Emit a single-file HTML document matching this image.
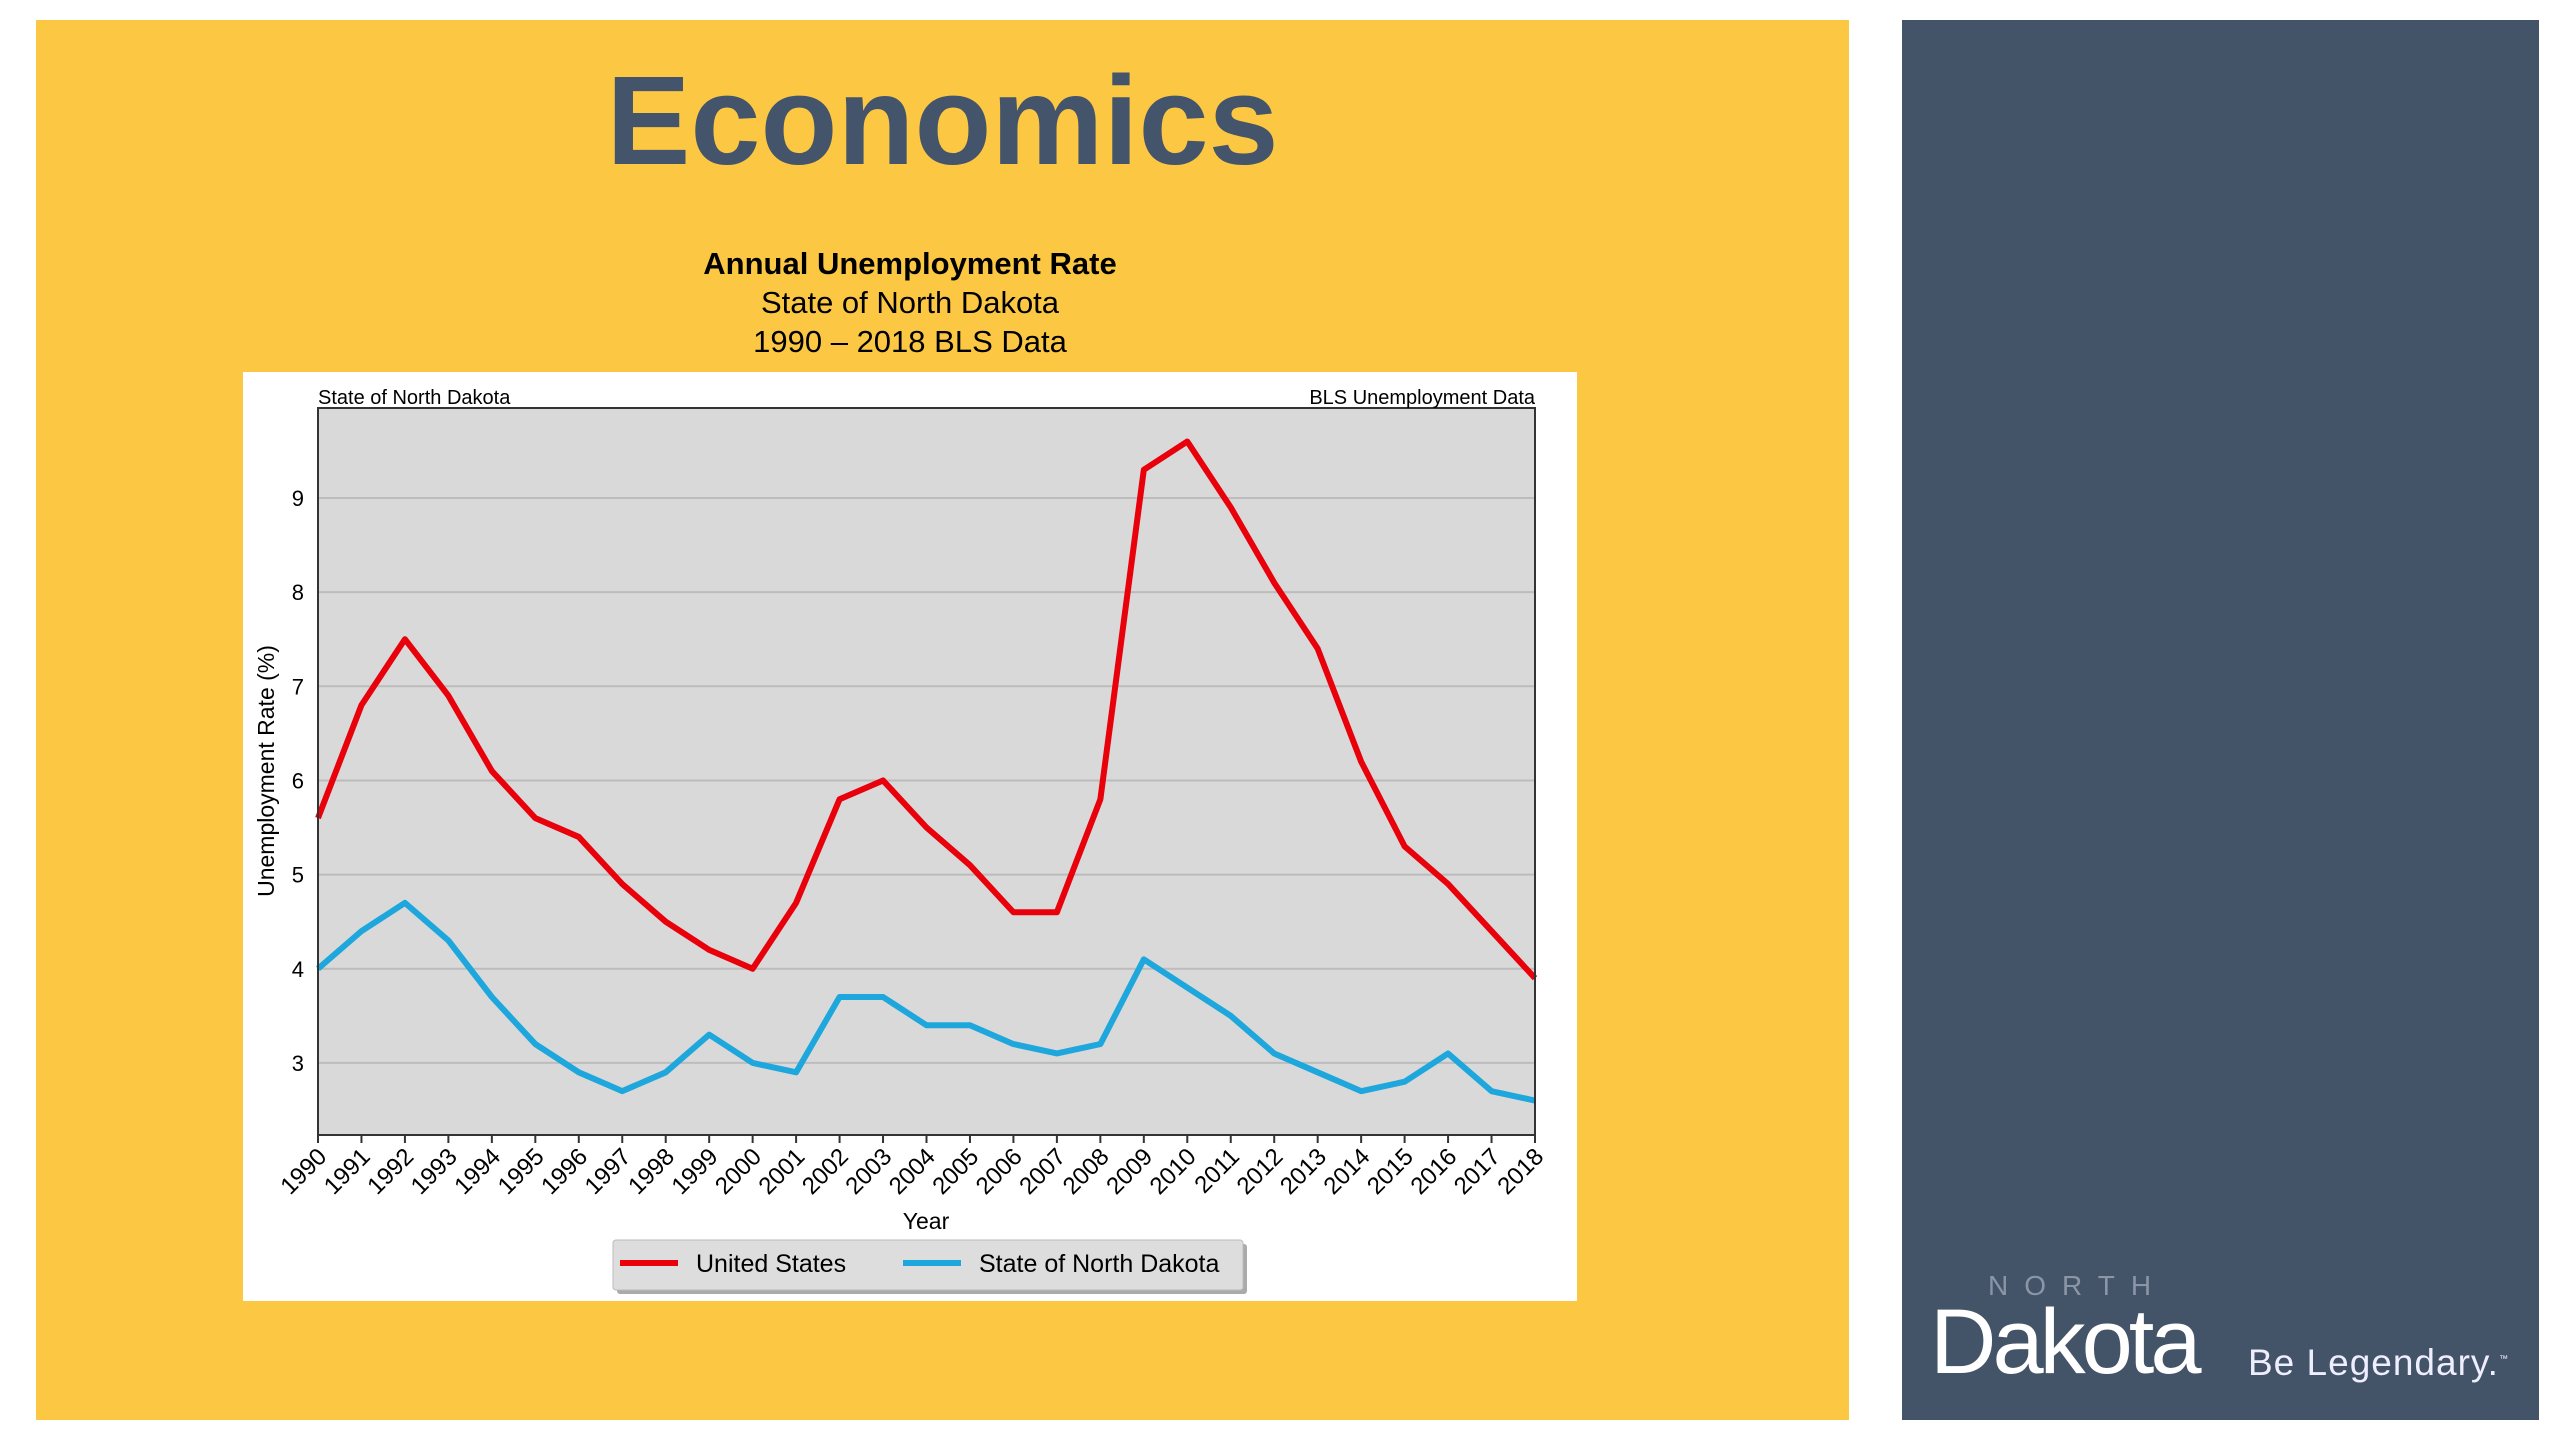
<!DOCTYPE html>
<html><head><meta charset="utf-8"><style>
html,body{margin:0;padding:0;width:2560px;height:1440px;background:#fff;overflow:hidden;font-family:"Liberation Sans",sans-serif}
.abs{position:absolute}
</style></head><body>
<div class="abs" style="left:36px;top:20px;width:1813px;height:1400px;background:#fcc843"></div>
<div class="abs" style="left:1902px;top:20px;width:637px;height:1400px;background:#435368"></div>
<div class="abs" style="left:36px;width:1813px;top:48px;text-align:center;font-size:126px;font-weight:bold;color:#44546a">Economics</div>
<div class="abs" style="left:510px;width:800px;top:244px;text-align:center;font-size:31px;line-height:39px;color:#000"><b>Annual Unemployment Rate</b><br>State of North Dakota<br>1990 – 2018 BLS Data</div>
<div class="abs" style="left:1988px;top:1270px;font-size:28px;letter-spacing:16px;color:#8a96a6">NORTH</div>
<div class="abs" style="left:1930px;top:1290px;font-size:92px;color:#fff;letter-spacing:-4px">Dakota</div>
<div class="abs" style="left:2248px;top:1342px;font-size:37px;color:#eef;letter-spacing:1px">Be Legendary.<sup style="font-size:9px">™</sup></div>
<svg class="abs" style="left:0;top:0" width="2560" height="1440">
<rect x="243" y="372" width="1334" height="929" fill="#fff"/>
<rect x="318" y="408" width="1217" height="727" fill="#d9d9d9"/>
<g id="grid"></g><g id="lines"></g>
<rect x="318" y="408" width="1217" height="727" fill="none" stroke="#333" stroke-width="2"/>
<text x="318" y="404" font-size="20">State of North Dakota</text>
<text x="1535" y="404" font-size="20" text-anchor="end">BLS Unemployment Data</text>
<text transform="translate(274,771) rotate(-90)" font-size="23" text-anchor="middle">Unemployment Rate (%)</text>
<text x="926" y="1229" font-size="23" text-anchor="middle">Year</text>
<g id="ticks"></g>
<g>
<rect x="617" y="1244" width="630" height="50" fill="#aaa" rx="3"/>
<rect x="613" y="1240" width="630" height="50" fill="#ddd" stroke="#bbb" rx="3"/>
<line x1="620" y1="1263" x2="678" y2="1263" stroke="#e8000b" stroke-width="6"/>
<text x="696" y="1272" font-size="25">United States</text>
<line x1="903" y1="1263" x2="961" y2="1263" stroke="#1ea7dc" stroke-width="6"/>
<text x="979" y="1272" font-size="25">State of North Dakota</text>
</g>
</svg>
<script>
const years=[1990,1991,1992,1993,1994,1995,1996,1997,1998,1999,2000,2001,2002,2003,2004,2005,2006,2007,2008,2009,2010,2011,2012,2013,2014,2015,2016,2017,2018];
const usValues=[5.6,6.8,7.5,6.9,6.1,5.6,5.4,4.9,4.5,4.2,4.0,4.7,5.8,6.0,5.5,5.1,4.6,4.6,5.8,9.3,9.6,8.9,8.1,7.4,6.2,5.3,4.9,4.4,3.9];
const ndValues=[4.0,4.4,4.7,4.3,3.7,3.2,2.9,2.7,2.9,3.3,3.0,2.9,3.7,3.7,3.4,3.4,3.2,3.1,3.2,4.1,3.8,3.5,3.1,2.9,2.7,2.8,3.1,2.7,2.6];
const yTicks=[3,4,5,6,7,8,9];
const NS='http://www.w3.org/2000/svg';
const xS=i=>318+i*(1535-318)/(years.length-1);
const yS=v=>498+(9-v)*94.15;
const grid=document.getElementById('grid'),ticks=document.getElementById('ticks'),lines=document.getElementById('lines');
function mk(tag,at){const e=document.createElementNS(NS,tag);for(const k in at)e.setAttribute(k,at[k]);return e;}
yTicks.forEach(v=>{
 const l=mk('line',{x1:318,x2:1535,y1:yS(v),y2:yS(v),stroke:'#bcbcbc','stroke-width':2});
 
 
 grid.appendChild(l);
 const t=mk('text',{x:304,y:yS(v)+8,'font-size':22,'text-anchor':'end'});t.textContent=v;
 
 
 ticks.appendChild(t);
});
years.forEach((y,i)=>{
 const tk=mk('line',{x1:xS(i),x2:xS(i),y1:1135,y2:1143,stroke:'#333','stroke-width':2});
 
 
 ticks.appendChild(tk);
 const t=mk('text',{transform:`translate(${xS(i)+10},${1158}) rotate(-45)`,'font-size':24,'text-anchor':'end'});t.textContent=y;
 
 
 ticks.appendChild(t);
});
function series(vals,color,name){
 const p=mk('polyline',{points:vals.map((v,i)=>xS(i)+','+yS(v)).join(' '),fill:'none',stroke:color,'stroke-width':6,'stroke-linejoin':'round'});
 
 
 lines.appendChild(p);
}
series(usValues,'#e8000b','us-line');
series(ndValues,'#1ea7dc','nd-line');
</script>
</body></html>
